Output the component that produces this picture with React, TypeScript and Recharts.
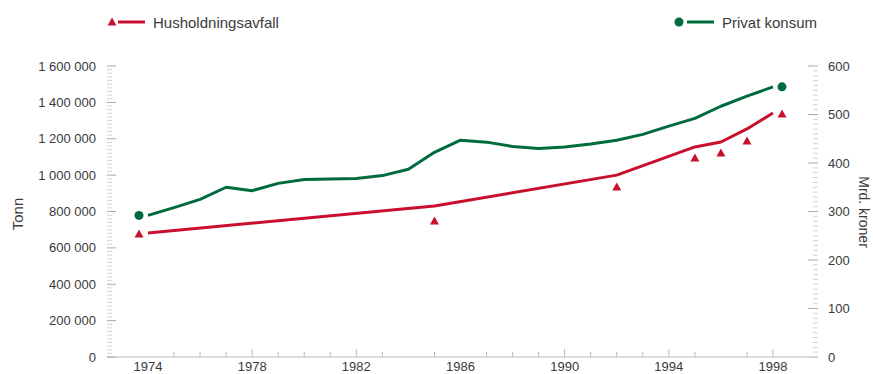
import React from 'react';
import { ComposedChart, Line, XAxis, YAxis } from 'recharts';

// ---------- data ----------
const years = [1974, 1975, 1976, 1977, 1978, 1979, 1980, 1981, 1982, 1983, 1984, 1985, 1986, 1987, 1988, 1989, 1990, 1991, 1992, 1993, 1994, 1995, 1996, 1997, 1998];
// Privat konsum, mrd. kroner
const privatKonsum = [292, 308, 325, 350, 343, 358, 366, 367, 368, 374, 387, 422, 447, 443, 434, 430, 433, 439, 447, 459, 476, 492, 517, 538, 557];

// Husholdningsavfall, trend line (tonn)
const avfallTrendYears = [1974, 1985, 1992, 1995, 1996, 1997, 1998];
const avfallTrend = [682000, 830000, 1000000, 1155000, 1182000, 1254000, 1342000];

// Husholdningsavfall, observations (tonn)
const avfallObsYears = [1985, 1992, 1995, 1996, 1997];
const avfallObs = [748000, 935000, 1094000, 1122000, 1188000];

// axis ticks
const xLabelYears = [1974, 1978, 1982, 1986, 1990, 1994, 1998];
const xMarkYears = [1975, 1976, 1977, 1978, 1979, 1980, 1981, 1982, 1983, 1985, 1987, 1988, 1989, 1990, 1991, 1992, 1993, 1994, 1995, 1997, 1998];
const leftMajorTicks = [0, 200000, 400000, 600000, 800000, 1000000, 1200000, 1400000, 1600000];
const rightMajorTicks = [0, 100, 200, 300, 400, 500, 600];
const leftStep = 20000;
const rightStep = 10;

const legendItems = ['Husholdningsavfall', 'Privat konsum'];
const axisTitles = { left: 'Tonn', right: 'Mrd. kroner' };

// ---------- derived tables ----------
const konsumData = years.map((y, i) => ({ year: y, konsum: privatKonsum[i] }));
const trendData = avfallTrendYears.map((y, i) => ({ year: y, avfall: avfallTrend[i] }));
const obsData = avfallObsYears.map((y, i) => ({ year: y, obs: avfallObs[i] }));
const leftTicks = Array.from({ length: 1600000 / leftStep + 1 }, (_, i) => i * leftStep);
const rightTicks = Array.from({ length: 600 / rightStep + 1 }, (_, i) => i * rightStep);

const RED = '#c8102e';
const GREEN = '#006b3c';
const FONT = '"Liberation Sans", Arial, Helvetica, sans-serif';
const TEXT = '#3a3a3a';

const fmt = (v: number) => String(v).replace(/\B(?=(\d{3})+(?!\d))/g, ' ');

const Tri = ({ cx, cy, color }: any) => (
  <path d={`M${cx},${cy - 4.5} L${cx + 4.5},${cy + 3.5} L${cx - 4.5},${cy + 3.5} Z`} fill={color} />
);

const LeftTick = (props: any) => {
  const { x, y, payload } = props;
  const major = leftMajorTicks.includes(payload.value);
  return (
    <g>
      <line x1={x} x2={x + (major ? 9 : 5)} y1={y} y2={y} stroke={major ? '#aaa' : '#d4d4d4'} strokeWidth={1} />
      {major && (
        <text x={x - 11} y={y} dy={4.5} textAnchor="end" fontSize={13} fontFamily={FONT} fill={TEXT}>
          {fmt(payload.value)}
        </text>
      )}
    </g>
  );
};

const RightTick = (props: any) => {
  const { x, y, payload } = props;
  const major = rightMajorTicks.includes(payload.value);
  return (
    <g>
      <line x1={major ? x : x + 5} x2={x + 10} y1={y} y2={y} stroke={major ? '#aaa' : '#d4d4d4'} strokeWidth={1} />
      {major && (
        <text x={x + 20} y={y} dy={4.5} textAnchor="start" fontSize={13} fontFamily={FONT} fill={TEXT}>
          {payload.value}
        </text>
      )}
    </g>
  );
};

const BottomTick = (props: any) => {
  const { x, y, payload } = props;
  const major = xLabelYears.includes(payload.value);
  const mark = xMarkYears.includes(payload.value);
  return (
    <g>
      {mark && <line x1={x} x2={x} y1={y} y2={y - (major ? 8 : 5)} stroke="#bbb" strokeWidth={1} />}
      {major && (
        <text x={x} y={y + 14} textAnchor="middle" fontSize={13} fontFamily={FONT} fill={TEXT}>
          {payload.value}
        </text>
      )}
    </g>
  );
};

const makeEndDot = (kind: 'tri' | 'circle', color: string, last: number) => (props: any) => {
  const { cx, cy, index } = props;
  if (index !== 0 && index !== last) return <g key={`d${index}`} />;
  const x = index === 0 ? cx - 9 : cx + 9;
  return (
    <g key={`d${index}`}>
      {kind === 'tri' ? <Tri cx={x} cy={cy + 1} color={color} /> : <circle cx={x} cy={cy} r={4.5} fill={color} />}
    </g>
  );
};

const obsDot = (props: any) => {
  const { cx, cy, index } = props;
  return (
    <g key={`o${index}`}>
      <Tri cx={cx} cy={cy} color={RED} />
    </g>
  );
};

export default function App() {
  return (
    <div style={{ position: 'absolute', left: 0, top: 0, width: 873, height: 374, background: '#fff', overflow: 'hidden' }}>
      <ComposedChart width={873} height={374} margin={{ top: 66, right: 0, bottom: 0, left: 0 }}>
        <XAxis
          xAxisId="x"
          type="number"
          dataKey="year"
          domain={[1974, 1998]}
          padding={{ left: 41, right: 35 }}
          ticks={years}
          interval={0}
          tickSize={0}
          tickMargin={0}
          height={17}
          tickLine={false}
          axisLine={{ stroke: '#bbb' }}
          tick={<BottomTick />}
          allowDecimals={false}
        />
        <YAxis
          yAxisId="left"
          orientation="left"
          width={107}
          domain={[0, 1600000]}
          ticks={leftTicks}
          interval={0}
          tickSize={0}
          tickMargin={0}
          tickLine={false}
          axisLine={false}
          tick={<LeftTick />}
        />
        <YAxis
          yAxisId="right"
          orientation="right"
          width={65}
          domain={[0, 600]}
          ticks={rightTicks}
          interval={0}
          tickSize={0}
          tickMargin={0}
          tickLine={false}
          axisLine={false}
          tick={<RightTick />}
        />
        <Line
          xAxisId="x"
          yAxisId="right"
          data={konsumData}
          dataKey="konsum"
          type="linear"
          stroke={GREEN}
          strokeWidth={3}
          strokeLinejoin="round"
          dot={makeEndDot('circle', GREEN, konsumData.length - 1)}
          activeDot={false}
          isAnimationActive={false}
        />
        <Line
          xAxisId="x"
          yAxisId="left"
          data={trendData}
          dataKey="avfall"
          type="linear"
          stroke={RED}
          strokeWidth={3}
          strokeLinejoin="round"
          dot={makeEndDot('tri', RED, trendData.length - 1)}
          activeDot={false}
          isAnimationActive={false}
        />
        <Line
          xAxisId="x"
          yAxisId="left"
          data={obsData}
          dataKey="obs"
          stroke="none"
          dot={obsDot}
          activeDot={false}
          isAnimationActive={false}
        />
      </ComposedChart>
      <svg width={873} height={374} style={{ position: 'absolute', left: 0, top: 0, pointerEvents: 'none' }}>
        <g>
          <Tri cx={112} cy={22} color={RED} />
          <line x1={118} x2={145} y1={22} y2={22} stroke={RED} strokeWidth={3} />
          <text x={153} y={27.5} fontSize={15} fontFamily={FONT} fill={TEXT}>{legendItems[0]}</text>
        </g>
        <g>
          <circle cx={679} cy={22} r={4.5} fill={GREEN} />
          <line x1={687} x2={714} y1={22} y2={22} stroke={GREEN} strokeWidth={3} />
          <text x={722} y={27.5} fontSize={15} fontFamily={FONT} fill={TEXT}>{legendItems[1]}</text>
        </g>
        <text x={0} y={0} transform="translate(23,214) rotate(-90)" textAnchor="middle" fontSize={15} fontFamily={FONT} fill={TEXT}>
          {axisTitles.left}
        </text>
        <text x={0} y={0} transform="translate(859,212) rotate(90)" textAnchor="middle" fontSize={14} fontFamily={FONT} fill={TEXT}>
          {axisTitles.right}
        </text>
      </svg>
    </div>
  );
}
